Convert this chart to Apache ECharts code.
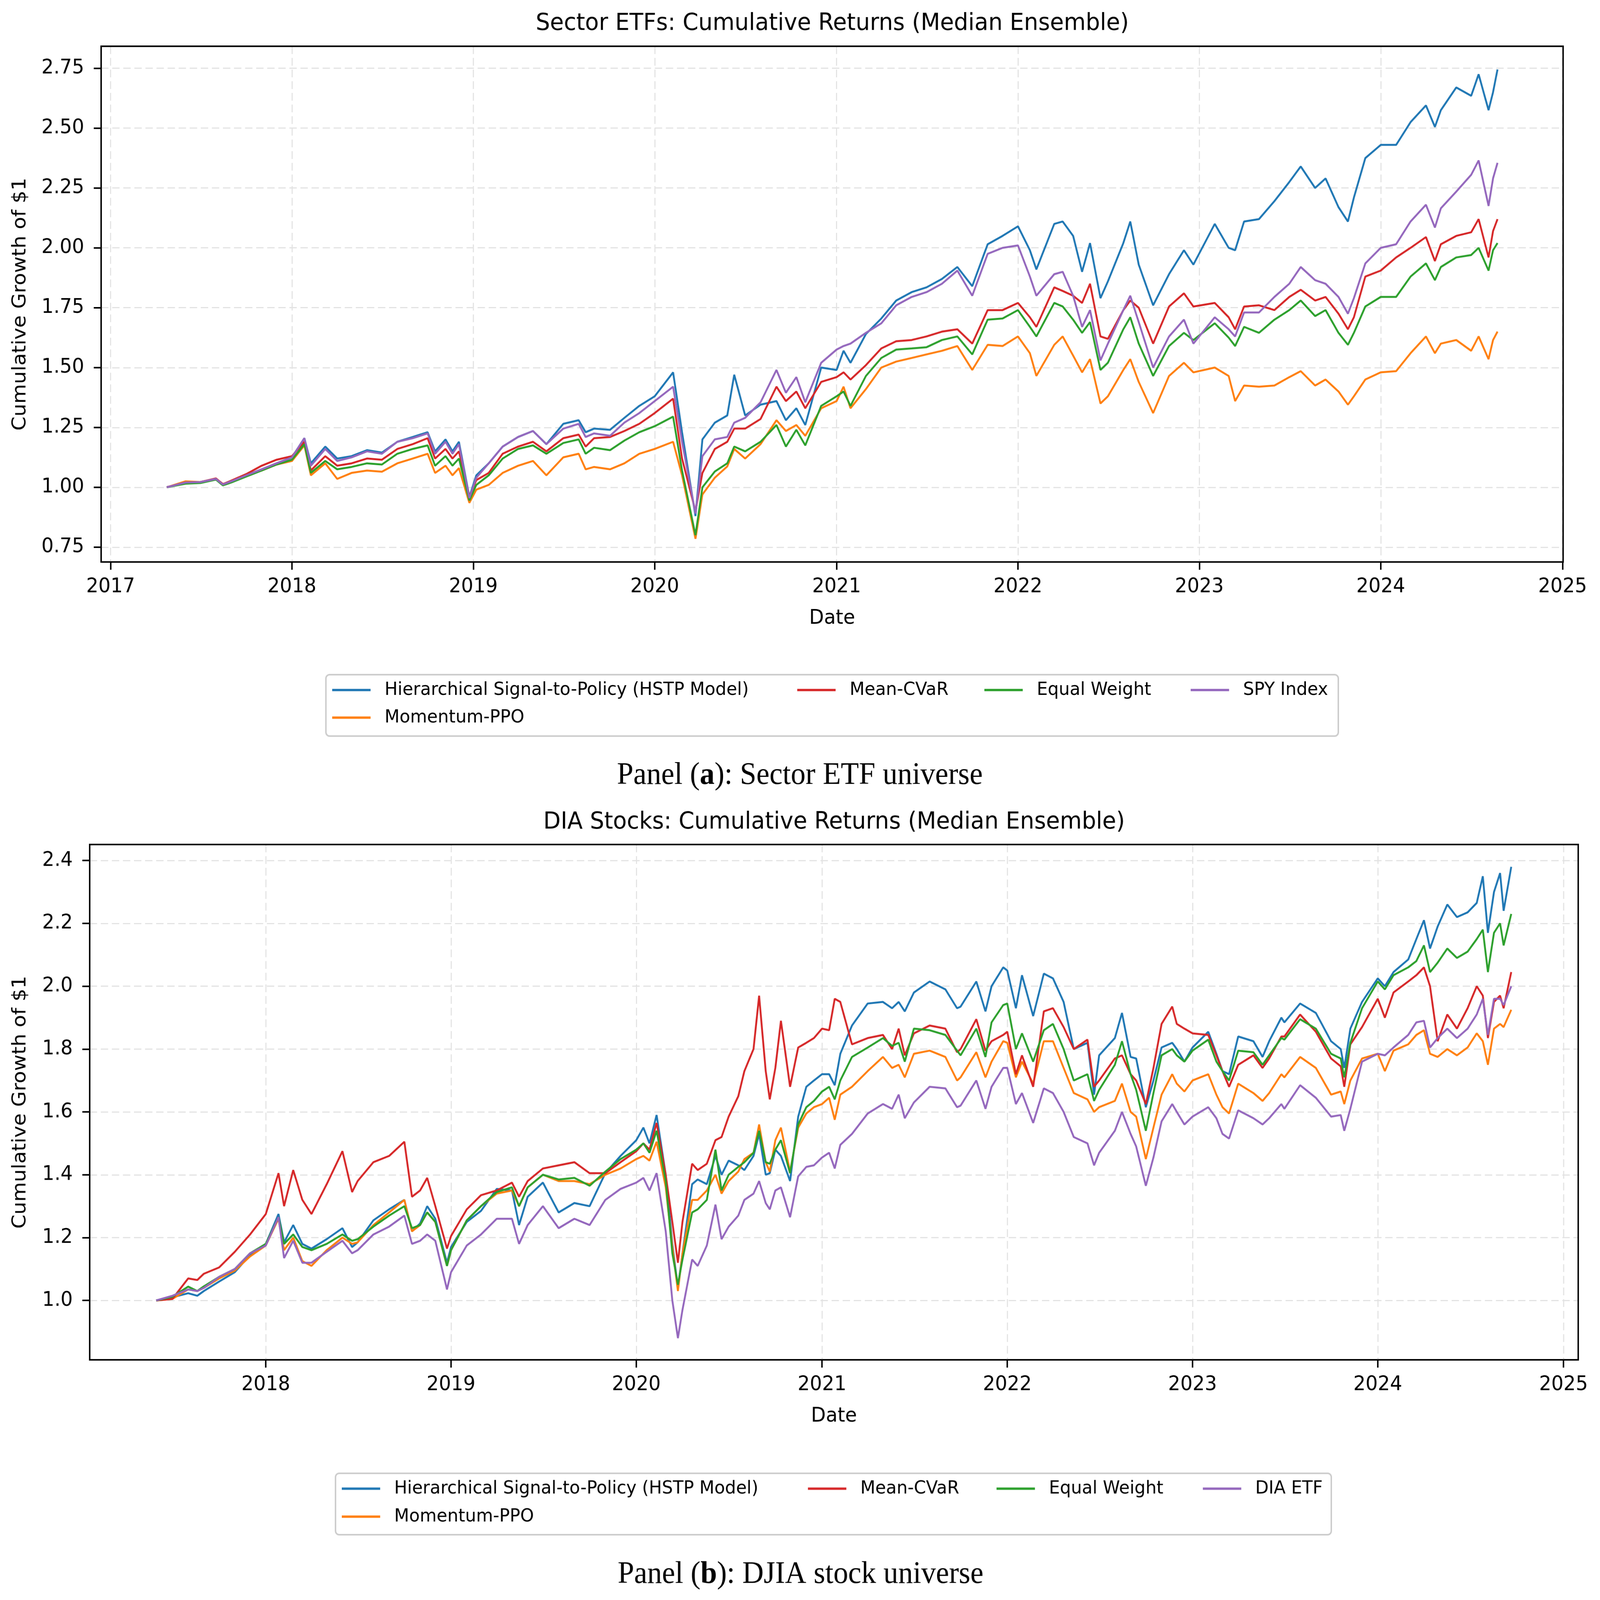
<!DOCTYPE html>
<html>
<head>
<meta charset="utf-8">
<title>Cumulative Returns (Median Ensemble)</title>
<script src="https://cdn.jsdelivr.net/npm/echarts@6/dist/echarts.min.js"></script>
<style>
    html, body {margin: 0; padding: 0; background: #fff; overflow: hidden;}
    #chart {width: 4335px; height: 4117px; transform-origin: 0 0;}
</style>
</head>
<body>
<div id="chart"></div>
<script>
// ---------- panel (a): sector ETFs ----------
var etfDates = [
    '2017-04-24','2017-06-01','2017-07-01','2017-08-01','2017-08-15','2017-09-01','2017-10-01','2017-11-01','2017-12-01','2018-01-01',
    '2018-01-26','2018-02-08','2018-03-09','2018-04-02','2018-05-01','2018-06-01','2018-07-01','2018-08-01','2018-09-01','2018-10-01',
    '2018-10-16','2018-11-06','2018-11-20','2018-12-03','2018-12-24','2019-01-07','2019-02-01','2019-03-01','2019-04-01','2019-05-01',
    '2019-05-28','2019-07-01','2019-08-01','2019-08-15','2019-09-01','2019-10-03','2019-11-01','2019-12-01','2020-01-01','2020-02-07',
    '2020-02-25','2020-03-23','2020-04-06','2020-05-01','2020-05-26','2020-06-09','2020-07-01','2020-08-01','2020-09-02','2020-09-21',
    '2020-10-12','2020-10-30','2020-12-01','2021-01-01','2021-01-15','2021-01-29','2021-03-01','2021-04-01','2021-05-01','2021-06-01',
    '2021-07-01','2021-08-01','2021-09-01','2021-10-01','2021-11-01','2021-12-01','2022-01-01','2022-01-25','2022-02-07','2022-03-15',
    '2022-04-01','2022-04-22','2022-05-10','2022-05-26','2022-06-16','2022-07-01','2022-08-01','2022-08-15','2022-09-01','2022-09-30',
    '2022-11-01','2022-12-01','2022-12-20','2023-02-01','2023-03-01','2023-03-14','2023-04-01','2023-05-01','2023-06-01','2023-07-01',
    '2023-07-24','2023-08-22','2023-09-12','2023-10-08','2023-10-27','2023-11-08','2023-12-01','2024-01-01','2024-02-01','2024-03-01',
    '2024-04-01','2024-04-19','2024-05-01','2024-06-01','2024-07-01','2024-07-16','2024-08-05','2024-08-14','2024-08-23'
];
var etfHstp = [
    1.00, 1.02, 1.022, 1.035, 1.012, 1.025, 1.05, 1.075, 1.10, 1.125,
    1.205, 1.10, 1.17, 1.12, 1.13, 1.155, 1.145, 1.19, 1.21, 1.23,
    1.15, 1.20, 1.15, 1.19, 0.96, 1.05, 1.10, 1.17, 1.21, 1.235,
    1.18, 1.265, 1.28, 1.23, 1.245, 1.24, 1.29, 1.34, 1.38, 1.48,
    1.23, 0.88, 1.20, 1.27, 1.30, 1.47, 1.30, 1.345, 1.36, 1.28,
    1.33, 1.26, 1.50, 1.49, 1.57, 1.52, 1.64, 1.705, 1.78, 1.815,
    1.835, 1.87, 1.92, 1.84, 2.015, 2.05, 2.09, 1.99, 1.91, 2.10,
    2.11, 2.05, 1.90, 2.02, 1.79, 1.86, 2.02, 2.11, 1.93, 1.76,
    1.89, 1.99, 1.93, 2.10, 2.00, 1.99, 2.11, 2.12, 2.195, 2.275,
    2.34, 2.25, 2.29, 2.17, 2.11, 2.21, 2.375, 2.43, 2.43, 2.525,
    2.595, 2.505, 2.575, 2.67, 2.635, 2.725, 2.575, 2.65, 2.745
];
var etfMomentum = [
    1.00, 1.025, 1.022, 1.035, 1.014, 1.022, 1.048, 1.07, 1.095, 1.11,
    1.175, 1.05, 1.10, 1.035, 1.06, 1.07, 1.065, 1.10, 1.12, 1.14,
    1.06, 1.09, 1.05, 1.08, 0.935, 0.99, 1.01, 1.06, 1.09, 1.11,
    1.05, 1.125, 1.14, 1.075, 1.085, 1.075, 1.10, 1.14, 1.16, 1.19,
    1.05, 0.785, 0.97, 1.04, 1.087, 1.16, 1.12, 1.18, 1.28, 1.235,
    1.26, 1.215, 1.33, 1.36, 1.42, 1.33, 1.41, 1.50, 1.525, 1.54,
    1.555, 1.57, 1.59, 1.49, 1.595, 1.59, 1.63, 1.56, 1.465, 1.595,
    1.63, 1.55, 1.48, 1.535, 1.35, 1.38, 1.49, 1.535, 1.44, 1.31,
    1.465, 1.52, 1.48, 1.50, 1.465, 1.36, 1.425, 1.42, 1.425, 1.46,
    1.485, 1.425, 1.45, 1.40, 1.345, 1.38, 1.45, 1.48, 1.485, 1.56,
    1.63, 1.56, 1.60, 1.615, 1.57, 1.63, 1.535, 1.615, 1.65
];
var etfCvar = [
    1.00, 1.02, 1.022, 1.037, 1.013, 1.028, 1.055, 1.09, 1.115, 1.13,
    1.19, 1.07, 1.13, 1.09, 1.10, 1.12, 1.115, 1.16, 1.18, 1.205,
    1.12, 1.16, 1.12, 1.15, 0.96, 1.03, 1.06, 1.14, 1.17, 1.19,
    1.15, 1.205, 1.22, 1.17, 1.205, 1.21, 1.235, 1.265, 1.31, 1.37,
    1.12, 0.90, 1.06, 1.16, 1.19, 1.245, 1.245, 1.285, 1.42, 1.36,
    1.40, 1.33, 1.44, 1.46, 1.48, 1.45, 1.51, 1.58, 1.61, 1.615,
    1.63, 1.65, 1.66, 1.60, 1.74, 1.74, 1.77, 1.71, 1.67, 1.835,
    1.82, 1.80, 1.77, 1.85, 1.63, 1.62, 1.74, 1.78, 1.75, 1.60,
    1.755, 1.81, 1.755, 1.77, 1.71, 1.66, 1.755, 1.76, 1.74, 1.795,
    1.825, 1.78, 1.795, 1.725, 1.66, 1.71, 1.88, 1.905, 1.96, 2.00,
    2.045, 1.945, 2.015, 2.05, 2.065, 2.12, 1.96, 2.07, 2.12
];
var etfEqual = [
    1.00, 1.015, 1.018, 1.032, 1.008, 1.02, 1.045, 1.07, 1.095, 1.115,
    1.18, 1.06, 1.11, 1.075, 1.085, 1.10, 1.095, 1.14, 1.16, 1.175,
    1.09, 1.13, 1.09, 1.12, 0.945, 1.01, 1.05, 1.12, 1.16, 1.175,
    1.14, 1.185, 1.20, 1.14, 1.165, 1.155, 1.195, 1.23, 1.255, 1.295,
    1.07, 0.80, 1.00, 1.066, 1.10, 1.17, 1.15, 1.19, 1.26, 1.17,
    1.24, 1.175, 1.34, 1.38, 1.40, 1.34, 1.465, 1.54, 1.575, 1.58,
    1.585, 1.615, 1.63, 1.555, 1.70, 1.705, 1.74, 1.67, 1.63, 1.77,
    1.755, 1.70, 1.645, 1.69, 1.49, 1.52, 1.66, 1.71, 1.60, 1.465,
    1.59, 1.645, 1.615, 1.685, 1.625, 1.59, 1.67, 1.645, 1.70, 1.74,
    1.78, 1.715, 1.74, 1.645, 1.595, 1.645, 1.755, 1.795, 1.795, 1.88,
    1.935, 1.865, 1.92, 1.96, 1.97, 2.00, 1.905, 1.99, 2.02
];
var etfSpy = [
    1.00, 1.02, 1.022, 1.035, 1.012, 1.025, 1.05, 1.075, 1.10, 1.125,
    1.205, 1.09, 1.16, 1.11, 1.125, 1.15, 1.14, 1.19, 1.205, 1.225,
    1.14, 1.19, 1.14, 1.18, 0.955, 1.04, 1.10, 1.17, 1.21, 1.235,
    1.18, 1.245, 1.265, 1.21, 1.225, 1.215, 1.27, 1.31, 1.36, 1.42,
    1.19, 0.89, 1.13, 1.20, 1.21, 1.27, 1.29, 1.355, 1.49, 1.395,
    1.46, 1.355, 1.52, 1.575, 1.59, 1.60, 1.645, 1.685, 1.76, 1.795,
    1.815, 1.85, 1.905, 1.80, 1.975, 2.00, 2.01, 1.88, 1.80, 1.89,
    1.90, 1.80, 1.67, 1.74, 1.53, 1.60, 1.74, 1.80, 1.69, 1.50,
    1.63, 1.70, 1.60, 1.71, 1.66, 1.63, 1.73, 1.73, 1.795, 1.85,
    1.92, 1.865, 1.85, 1.795, 1.725, 1.79, 1.935, 2.00, 2.015, 2.11,
    2.18, 2.085, 2.165, 2.235, 2.305, 2.365, 2.175, 2.29, 2.355
];

// ---------- panel (b): DIA stocks ----------
var diaDates = [
    '2017-05-30','2017-07-01','2017-08-01','2017-08-19','2017-09-01','2017-10-01','2017-11-01','2017-12-01','2018-01-01','2018-01-26',
    '2018-02-06','2018-02-24','2018-03-14','2018-04-01','2018-05-01','2018-06-01','2018-06-20','2018-07-01','2018-08-01','2018-09-01',
    '2018-10-01','2018-10-16','2018-11-01','2018-11-15','2018-12-01','2018-12-24','2019-01-01','2019-02-01','2019-03-01','2019-04-01',
    '2019-05-01','2019-05-15','2019-06-01','2019-07-01','2019-08-01','2019-09-01','2019-10-01','2019-11-01','2019-12-01','2020-01-01',
    '2020-01-15','2020-01-27','2020-02-10','2020-02-28','2020-03-12','2020-03-23','2020-04-01','2020-04-20','2020-05-01','2020-05-19',
    '2020-06-05','2020-06-17','2020-07-01','2020-07-20','2020-08-01','2020-08-19','2020-08-30','2020-09-12','2020-09-20','2020-10-01',
    '2020-10-12','2020-10-30','2020-11-15','2020-12-01','2020-12-16','2021-01-01','2021-01-15','2021-01-26','2021-02-06','2021-03-01',
    '2021-04-01','2021-05-01','2021-05-19','2021-06-01','2021-06-13','2021-07-01','2021-08-01','2021-09-01','2021-09-24','2021-10-01',
    '2021-11-01','2021-11-19','2021-12-01','2021-12-24','2022-01-01','2022-01-18','2022-01-30','2022-02-21','2022-03-14','2022-04-01',
    '2022-04-22','2022-05-12','2022-06-08','2022-06-21','2022-07-01','2022-08-01','2022-08-15','2022-09-01','2022-09-12','2022-10-01',
    '2022-10-16','2022-11-01','2022-11-22','2022-12-01','2022-12-16','2023-01-01','2023-02-01','2023-02-17','2023-03-01','2023-03-14',
    '2023-04-01','2023-05-01','2023-05-19','2023-06-01','2023-06-25','2023-07-01','2023-08-01','2023-09-01','2023-10-01','2023-10-20',
    '2023-10-27','2023-11-08','2023-12-01','2024-01-01','2024-01-15','2024-02-01','2024-03-01','2024-03-17','2024-04-01','2024-04-13',
    '2024-04-28','2024-05-17','2024-06-05','2024-06-26','2024-07-14','2024-07-26','2024-08-05','2024-08-17','2024-08-29','2024-09-05',
    '2024-09-20'
];
var diaHstp = [
    1.00, 1.01, 1.023, 1.015, 1.03, 1.06, 1.09, 1.145, 1.18, 1.275,
    1.185, 1.24, 1.18, 1.165, 1.195, 1.23, 1.17, 1.185, 1.255, 1.29,
    1.32, 1.22, 1.245, 1.30, 1.26, 1.12, 1.17, 1.25, 1.285, 1.355,
    1.35, 1.24, 1.33, 1.375, 1.28, 1.31, 1.30, 1.405, 1.46, 1.51,
    1.55, 1.50, 1.59, 1.40, 1.18, 1.04, 1.15, 1.37, 1.385, 1.37,
    1.46, 1.40, 1.445, 1.43, 1.415, 1.46, 1.53, 1.40, 1.405, 1.48,
    1.46, 1.38, 1.585, 1.68, 1.70, 1.72, 1.72, 1.685, 1.785, 1.875,
    1.945, 1.95, 1.93, 1.95, 1.92, 1.98, 2.015, 1.99, 1.93, 1.935,
    2.015, 1.92, 2.00, 2.06, 2.05, 1.93, 2.035, 1.905, 2.04, 2.025,
    1.95, 1.80, 1.82, 1.655, 1.78, 1.835, 1.915, 1.775, 1.77, 1.615,
    1.70, 1.805, 1.82, 1.80, 1.76, 1.805, 1.855, 1.785, 1.73, 1.72,
    1.84, 1.825, 1.775, 1.825, 1.90, 1.885, 1.945, 1.915, 1.825, 1.80,
    1.74, 1.865, 1.95, 2.025, 2.00, 2.045, 2.085, 2.15, 2.21, 2.12,
    2.19, 2.26, 2.22, 2.235, 2.265, 2.35, 2.17, 2.30, 2.36, 2.24,
    2.38
];
var diaMomentum = [
    1.00, 1.005, 1.035, 1.03, 1.04, 1.07, 1.095, 1.14, 1.175, 1.26,
    1.16, 1.20, 1.125, 1.11, 1.16, 1.20, 1.18, 1.185, 1.24, 1.28,
    1.32, 1.22, 1.24, 1.28, 1.25, 1.11, 1.16, 1.255, 1.30, 1.34,
    1.35, 1.30, 1.36, 1.40, 1.38, 1.38, 1.37, 1.40, 1.42, 1.45,
    1.46, 1.445, 1.505, 1.36, 1.17, 1.03, 1.15, 1.32, 1.32, 1.35,
    1.40, 1.34, 1.38, 1.41, 1.45, 1.47, 1.56, 1.44, 1.41, 1.51,
    1.55, 1.41, 1.55, 1.595, 1.615, 1.625, 1.645, 1.575, 1.655, 1.68,
    1.73, 1.775, 1.74, 1.75, 1.71, 1.785, 1.795, 1.775, 1.70, 1.71,
    1.79, 1.71, 1.76, 1.825, 1.82, 1.71, 1.76, 1.69, 1.825, 1.825,
    1.74, 1.66, 1.64, 1.60, 1.615, 1.635, 1.69, 1.60, 1.585, 1.45,
    1.55, 1.655, 1.72, 1.69, 1.665, 1.70, 1.72, 1.655, 1.615, 1.595,
    1.69, 1.66, 1.635, 1.66, 1.72, 1.71, 1.775, 1.74, 1.655, 1.665,
    1.625, 1.70, 1.77, 1.785, 1.73, 1.795, 1.815, 1.845, 1.86, 1.785,
    1.775, 1.80, 1.78, 1.805, 1.85, 1.825, 1.75, 1.865, 1.88, 1.87,
    1.925
];
var diaCvar = [
    1.00, 1.005, 1.07, 1.065, 1.085, 1.105, 1.155, 1.21, 1.275, 1.405,
    1.30, 1.415, 1.32, 1.275, 1.37, 1.475, 1.345, 1.38, 1.44, 1.46,
    1.505, 1.33, 1.35, 1.39, 1.30, 1.165, 1.205, 1.29, 1.335, 1.35,
    1.375, 1.33, 1.38, 1.42, 1.43, 1.44, 1.405, 1.405, 1.44, 1.475,
    1.50, 1.48, 1.565, 1.40, 1.25, 1.12, 1.25, 1.435, 1.415, 1.435,
    1.51, 1.52, 1.585, 1.65, 1.73, 1.80, 1.97, 1.73, 1.64, 1.74,
    1.89, 1.68, 1.805, 1.82, 1.835, 1.865, 1.86, 1.96, 1.95, 1.815,
    1.835, 1.845, 1.80, 1.865, 1.78, 1.85, 1.875, 1.865, 1.79, 1.80,
    1.895, 1.795, 1.825, 1.845, 1.855, 1.72, 1.78, 1.68, 1.92, 1.93,
    1.87, 1.80, 1.83, 1.68, 1.70, 1.77, 1.78, 1.72, 1.70, 1.625,
    1.74, 1.88, 1.935, 1.88, 1.865, 1.85, 1.845, 1.78, 1.73, 1.68,
    1.75, 1.78, 1.74, 1.77, 1.84, 1.84, 1.91, 1.855, 1.77, 1.745,
    1.68, 1.815, 1.87, 1.96, 1.90, 1.98, 2.015, 2.035, 2.06, 2.00,
    1.825, 1.91, 1.865, 1.93, 2.00, 1.97, 1.835, 1.95, 1.97, 1.93,
    2.045
];
var diaEqual = [
    1.00, 1.012, 1.044, 1.03, 1.045, 1.075, 1.10, 1.15, 1.18, 1.265,
    1.18, 1.21, 1.17, 1.16, 1.18, 1.21, 1.19, 1.195, 1.235, 1.27,
    1.30, 1.23, 1.24, 1.28, 1.25, 1.11, 1.16, 1.255, 1.30, 1.345,
    1.36, 1.30, 1.36, 1.40, 1.385, 1.39, 1.365, 1.41, 1.45, 1.48,
    1.50, 1.47, 1.54, 1.38, 1.15, 1.05, 1.13, 1.28, 1.29, 1.32,
    1.48, 1.35, 1.40, 1.425, 1.44, 1.47, 1.54, 1.44, 1.435, 1.48,
    1.51, 1.405, 1.56, 1.615, 1.635, 1.665, 1.68, 1.64, 1.70, 1.775,
    1.805, 1.835, 1.81, 1.82, 1.76, 1.865, 1.86, 1.845, 1.795, 1.78,
    1.865, 1.775, 1.885, 1.94, 1.945, 1.80, 1.85, 1.76, 1.86, 1.88,
    1.80, 1.70, 1.72, 1.635, 1.67, 1.75, 1.825, 1.72, 1.67, 1.54,
    1.66, 1.78, 1.80, 1.78, 1.76, 1.795, 1.83, 1.76, 1.73, 1.70,
    1.795, 1.79, 1.75, 1.78, 1.835, 1.83, 1.895, 1.865, 1.785, 1.77,
    1.71, 1.82, 1.93, 2.015, 1.99, 2.035, 2.06, 2.08, 2.13, 2.045,
    2.075, 2.12, 2.09, 2.11, 2.15, 2.18, 2.045, 2.17, 2.20, 2.13,
    2.23
];
var diaEtf = [
    1.00, 1.015, 1.035, 1.03, 1.04, 1.075, 1.10, 1.15, 1.175, 1.265,
    1.135, 1.19, 1.12, 1.12, 1.155, 1.19, 1.15, 1.16, 1.21, 1.235,
    1.27, 1.18, 1.19, 1.21, 1.19, 1.035, 1.09, 1.175, 1.21, 1.26,
    1.26, 1.18, 1.24, 1.30, 1.23, 1.26, 1.24, 1.32, 1.355, 1.375,
    1.39, 1.35, 1.405, 1.22, 1.00, 0.88, 0.97, 1.13, 1.11, 1.175,
    1.305, 1.195, 1.235, 1.27, 1.32, 1.34, 1.38, 1.31, 1.29, 1.35,
    1.36, 1.265, 1.395, 1.425, 1.43, 1.455, 1.47, 1.42, 1.495, 1.53,
    1.595, 1.625, 1.61, 1.655, 1.58, 1.63, 1.68, 1.675, 1.615, 1.62,
    1.70, 1.61, 1.68, 1.74, 1.74, 1.625, 1.66, 1.565, 1.675, 1.66,
    1.60, 1.52, 1.50, 1.43, 1.47, 1.54, 1.60, 1.53, 1.49, 1.365,
    1.455, 1.57, 1.625, 1.60, 1.56, 1.585, 1.615, 1.58, 1.53, 1.515,
    1.605, 1.58, 1.56, 1.58, 1.625, 1.61, 1.685, 1.645, 1.585, 1.59,
    1.54, 1.61, 1.76, 1.785, 1.78, 1.805, 1.845, 1.885, 1.89, 1.805,
    1.835, 1.865, 1.835, 1.865, 1.91, 1.96, 1.845, 1.96, 1.96, 1.94,
    2.00
];

// tick labels
var etfYears = [2017, 2018, 2019, 2020, 2021, 2022, 2023, 2024, 2025];
var diaYears = [2018, 2019, 2020, 2021, 2022, 2023, 2024, 2025];
var etfYTicks = [0.75, 1.00, 1.25, 1.50, 1.75, 2.00, 2.25, 2.50, 2.75];
var diaYTicks = [1.0, 1.2, 1.4, 1.6, 1.8, 2.0, 2.2, 2.4];

var etfNames = ['Hierarchical Signal-to-Policy (HSTP Model)', 'Momentum-PPO', 'Mean-CVaR', 'Equal Weight', 'SPY Index'];
var diaNames = ['Hierarchical Signal-to-Policy (HSTP Model)', 'Momentum-PPO', 'Mean-CVaR', 'Equal Weight', 'DIA ETF'];
var lineColors = ['#1f77b4', '#ff7f0e', '#d62728', '#2ca02c', '#9467bd'];

var FONT = 'DejaVu Sans';
var PAGE_W = 4335, PAGE_H = 4117;
// plot boxes [left, top, width, height]
var boxA = [274, 119, 3961, 1327];
var boxB = [243, 2173, 4033, 1326];

window.onload = function () {
    chartInit();
}

// dates are kept as strings above, the x axis works on timestamps
function stamp(d) {
    var p = d.split('-');
    return new Date(+p[0], +p[1] - 1, +p[2]).getTime();
}

function yearStamps(years) {
    return years.map(function (y) { return new Date(y, 0, 1).getTime(); });
}

function xAxisFor(idx, min, max, years) {
    var stamps = yearStamps(years);
    return {
        type: 'value',
        gridIndex: idx,
        min: stamp(min),
        max: stamp(max),
        name: 'Date',
        nameLocation: 'middle',
        nameGap: 119,
        nameTextStyle: {fontSize: 52, color: '#000', fontFamily: FONT},
        axisLine: {show: true, onZero: false, lineStyle: {color: '#000', width: 4}},
        axisTick: {show: true, inside: false, length: 20, customValues: stamps, lineStyle: {color: '#000', width: 4}},
        axisLabel: {
            customValues: stamps,
            margin: 38,
            fontSize: 52,
            color: '#000',
            fontFamily: FONT,
            formatter: function (v) { return '' + new Date(v).getFullYear(); }
        },
        splitLine: {show: true, customValues: stamps, lineStyle: {color: '#e3e3e3', width: 3, type: [20, 10]}}
    };
}

function yAxisFor(idx, min, max, ticks, digits, gap) {
    return {
        type: 'value',
        gridIndex: idx,
        min: min,
        max: max,
        name: 'Cumulative Growth of $1',
        nameLocation: 'middle',
        nameGap: gap,
        nameRotate: 90,
        nameTextStyle: {fontSize: 52, color: '#000', fontFamily: FONT},
        axisLine: {show: true, onZero: false, lineStyle: {color: '#000', width: 4}},
        axisTick: {show: true, inside: false, length: 20, customValues: ticks, lineStyle: {color: '#000', width: 4}},
        axisLabel: {
            customValues: ticks,
            margin: 46,
            fontSize: 52,
            color: '#000',
            fontFamily: FONT,
            formatter: function (v) { return v.toFixed(digits); }
        },
        splitLine: {show: true, customValues: ticks, lineStyle: {color: '#e3e3e3', width: 3, type: [20, 10]}}
    };
}

function buildSeries(idx, names, dates, lists) {
    var out = [];
    for (var k = 0; k < names.length; k++) {
        var vals = lists[k];
        out.push({
            name: names[k],
            type: 'line',
            xAxisIndex: idx,
            yAxisIndex: idx,
            showSymbol: false,
            symbol: 'none',
            color: lineColors[k],
            lineStyle: {width: 5, color: lineColors[k]},
            data: dates.map(function (d, i) { return [stamp(d), vals[i]]; })
        });
    }
    return out;
}

// one legend per entry so the 4-column matplotlib layout can be placed
function buildLegends(names, spots) {
    return names.map(function (n, k) {
        return {
            data: [n],
            left: spots[k][0],
            top: spots[k][1] - 24,
            padding: 0,
            icon: 'rect',
            itemWidth: 104,
            itemHeight: 6,
            selectedMode: false,
            textStyle: {fontSize: 47, color: '#000', fontFamily: FONT, padding: [0, 0, 0, 33]}
        };
    });
}

function gridFor(box) {
    return {left: box[0], top: box[1], width: box[2], height: box[3], show: false, outerBoundsMode: 'none'};
}

// axes frame drawn on top so the grid lines do not cut the spines
function frameFor(box) {
    return {type: 'rect', z: 20, silent: true, shape: {x: box[0], y: box[1], width: box[2], height: box[3]},
        style: {fill: null, stroke: '#000', lineWidth: 4}};
}

function captionFor(x, y, letter, rest) {
    return {type: 'text', z: 5, x: x, y: y,
        style: {text: '{n|Panel (}{b|' + letter + '}{n|): ' + rest + '}', textAlign: 'center', textVerticalAlign: 'middle',
            rich: {
                n: {fontSize: 80, fontFamily: 'Liberation Serif', color: '#000'},
                b: {fontSize: 80, fontFamily: 'Liberation Serif', fontWeight: 'bold', color: '#000'}
            }}};
}

function chartInit() {
    var el = document.getElementById('chart');
    // the figure is laid out at 4335x4117; shrink it to whatever the window really offers
    var sx = Math.min(1, window.innerWidth / PAGE_W);
    var sy = Math.min(1, window.innerHeight / PAGE_H);
    el.style.transform = 'scale(' + sx + ',' + sy + ')';

    var myChart = echarts.init(el, null, {renderer: 'canvas', width: PAGE_W, height: PAGE_H});

    var legends = buildLegends(etfNames, [[900, 1776], [900, 1847], [2160, 1776], [2667, 1776], [3226, 1776]])
        .concat(buildLegends(diaNames, [[926, 3831], [926, 3903], [2189, 3831], [2700, 3831], [3259, 3831]]));

    var series = buildSeries(0, etfNames, etfDates, [etfHstp, etfMomentum, etfCvar, etfEqual, etfSpy])
        .concat(buildSeries(1, diaNames, diaDates, [diaHstp, diaMomentum, diaCvar, diaEqual, diaEtf]));

    var option = {
        backgroundColor: '#fff',
        animation: false,
        textStyle: {fontFamily: FONT},
        grid: [gridFor(boxA), gridFor(boxB)],
        xAxis: [
            xAxisFor(0, '2016-12-13', '2025-01-02', etfYears),
            xAxisFor(1, '2017-01-19', '2025-01-30', diaYears)
        ],
        yAxis: [
            yAxisFor(0, 0.688, 2.842, etfYTicks, 2, 193),
            yAxisFor(1, 0.811, 2.451, diaYTicks, 1, 162)
        ],
        legend: legends,
        series: series,
        graphic: [
            frameFor(boxA),
            frameFor(boxB),
            {type: 'rect', z: 1, shape: {x: 883, y: 1736, width: 2743, height: 158, r: 10},
                style: {fill: '#fff', stroke: '#cccccc', lineWidth: 4}},
            {type: 'rect', z: 1, shape: {x: 909, y: 3791, width: 2698, height: 158, r: 10},
                style: {fill: '#fff', stroke: '#cccccc', lineWidth: 4}},
            {type: 'text', z: 5, x: 2255, y: 61,
                style: {text: 'Sector ETFs: Cumulative Returns (Median Ensemble)', fontSize: 61, fontFamily: FONT,
                    fill: '#000', textAlign: 'center', textVerticalAlign: 'middle'}},
            {type: 'text', z: 5, x: 2260, y: 2116,
                style: {text: 'DIA Stocks: Cumulative Returns (Median Ensemble)', fontSize: 61, fontFamily: FONT,
                    fill: '#000', textAlign: 'center', textVerticalAlign: 'middle'}},
            captionFor(2167, 1996, 'a', 'Sector ETF universe'),
            captionFor(2169, 4052, 'b', 'DJIA stock universe')
        ]
    };

    myChart.setOption(option);
}
</script>
</body>
</html>
